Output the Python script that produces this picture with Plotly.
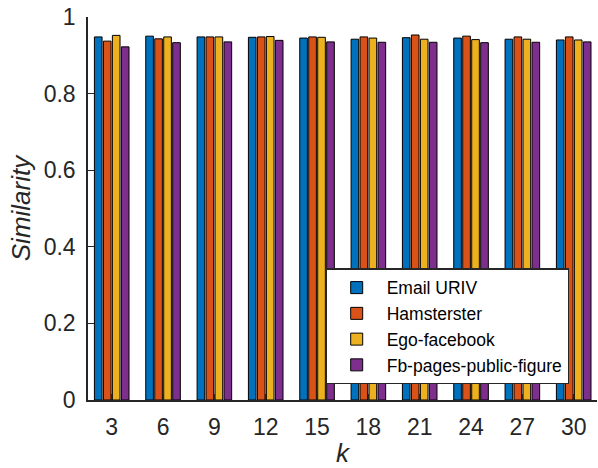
import plotly.graph_objects as go

k_labels = ["3", "6", "9", "12", "15", "18", "21", "24", "27", "30"]
series_names = ["Email URIV", "Hamsterster", "Ego-facebook", "Fb-pages-public-figure"]
email_uriv = [0.948, 0.950, 0.948, 0.947, 0.945, 0.942, 0.946, 0.945, 0.942, 0.940]
hamsterster = [0.937, 0.943, 0.948, 0.948, 0.948, 0.948, 0.953, 0.950, 0.948, 0.948]
ego_facebook = [0.952, 0.948, 0.948, 0.949, 0.947, 0.945, 0.942, 0.941, 0.942, 0.940]
fb_pages = [0.922, 0.933, 0.935, 0.939, 0.935, 0.934, 0.934, 0.933, 0.934, 0.935]
colors = ["#0072BD", "#D95319", "#EDB120", "#7E2F8E"]

x_pos = list(range(1, len(k_labels) + 1))
font_family = "Liberation Sans, Arial, Helvetica, sans-serif"
axis_color = "#262626"

fig = go.Figure()
for name, vals, col in zip(series_names, [email_uriv, hamsterster, ego_facebook, fb_pages], colors):
    fig.add_trace(go.Bar(
        x=x_pos, y=vals, name=name,
        marker=dict(color=col, line=dict(color="#000000", width=1)),
    ))

fig.update_layout(
    width=598, height=468,
    margin=dict(l=88, r=1, t=17, b=68, autoexpand=False),
    paper_bgcolor="white", plot_bgcolor="white",
    barmode="group", bargap=0.3, bargroupgap=0.15,
    font=dict(family=font_family, size=23, color=axis_color),
    showlegend=True,
    legend=dict(
        x=0.466, y=0.344, xanchor="left", yanchor="top",
        bgcolor="white", bordercolor=axis_color, borderwidth=1.5,
        font=dict(family=font_family, size=17.5, color="#000000"),
        itemwidth=50, tracegroupgap=0,
    ),
    xaxis=dict(
        automargin=False,
        range=[0.538, 10.454],
        tickmode="array", tickvals=x_pos, ticktext=k_labels,
        ticks="inside", ticklen=6, tickwidth=1, tickcolor=axis_color,
        showline=True, linecolor=axis_color, linewidth=1.5,
        showgrid=False, zeroline=False,
        ticklabelstandoff=6,
        title=dict(text="<i>k</i>", font=dict(size=26), standoff=6),
    ),
    yaxis=dict(
        automargin=False,
        range=[0, 1],
        tickmode="array", tickvals=[0, 0.2, 0.4, 0.6, 0.8, 1],
        ticktext=["0", "0.2", "0.4", "0.6", "0.8", "1"],
        ticks="inside", ticklen=6, tickwidth=1, tickcolor=axis_color,
        showline=True, linecolor=axis_color, linewidth=1.5,
        showgrid=False, zeroline=False,
        ticklabelstandoff=6,
        title=dict(text="<i>Similarity</i>", font=dict(size=26), standoff=6),
    ),
)

fig.write_html(
    "out.html",
    config={"displayModeBar": False},
    post_script="document.body.style.margin='0';document.body.style.padding='0';",
)
